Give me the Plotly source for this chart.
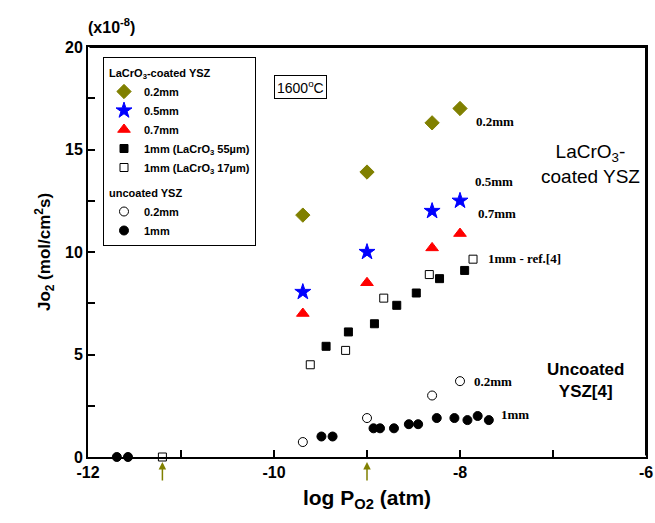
import plotly.graph_objects as go

# ---- data ----
x_02 = [-9.69, -9.0, -8.3, -8.0]
y_02 = [11.8, 13.9, 16.3, 17.0]
x_05 = [-9.69, -9.0, -8.3, -8.0]
y_05 = [8.05, 10.0, 12.0, 12.5]
x_07 = [-9.69, -9.0, -8.3, -8.0]
y_07 = [7.0, 8.5, 10.2, 10.9]
x_1mm55 = [-9.44, -9.2, -8.92, -8.68, -8.47, -8.22, -7.95]
y_1mm55 = [5.4, 6.1, 6.5, 7.4, 8.0, 8.7, 9.1]
x_1mm17 = [-11.2, -9.61, -9.23, -8.82, -8.33, -7.86]
y_1mm17 = [0.0, 4.5, 5.2, 7.75, 8.9, 9.65]
x_unc02 = [-9.69, -9.0, -8.3, -8.0]
y_unc02 = [0.73, 1.9, 3.0, 3.7]
x_unc1 = [-11.69, -11.57, -9.49, -9.37, -8.93, -8.86, -8.71, -8.55, -8.45,
          -8.25, -8.06, -7.92, -7.81, -7.69]
y_unc1 = [0.0, 0.0, 1.0, 1.0, 1.4, 1.4, 1.4, 1.6, 1.6, 1.9, 1.9, 1.8, 2.0, 1.8]
arrow_x = [-11.2, -9.0]

x_ticks = [-12, -10, -8, -6]
y_ticks = [0, 5, 10, 15, 20]

FONT = "Arial, Liberation Sans, sans-serif"
SERIF = "Times New Roman, Liberation Serif, serif"
OLIVE = "#808000"

fig = go.Figure()

def add(x, y, name, symbol, color, size, group, gtitle=None):
    marker = dict(symbol=symbol, size=size, color=color, line=dict(color=color, width=1))
    tr = go.Scatter(x=x, y=y, mode="markers", name=name, marker=marker,
                    legendgroup=group, cliponaxis=False)
    if gtitle:
        tr.legendgrouptitle = dict(text=gtitle, font=dict(size=11, family=FONT, weight="bold", color="black"))
    fig.add_trace(tr)

add(x_02, y_02, "0.2mm", "diamond", OLIVE, 11, "c", "LaCrO<sub>3</sub>-coated YSZ")
add(x_05, y_05, "0.5mm", "star", "blue", 12, "c")
add(x_07, y_07, "0.7mm", "triangle-up", "red", 11, "c")
add(x_1mm55, y_1mm55, "1mm (LaCrO<sub>3</sub> 55µm)", "square", "black", 8, "c")
add(x_1mm17, y_1mm17, "1mm (LaCrO<sub>3</sub> 17µm)", "square-open", "black", 8, "c")
add(x_unc02, y_unc02, "0.2mm", "circle-open", "black", 9, "u", "uncoated YSZ")
add(x_unc1, y_unc1, "1mm", "circle", "black", 9, "u")

W, H = 655, 523
L, R, T, B = 88, 646, 47, 457
def px(xp): return (xp - L) / (R - L)
def py(yp): return (B - yp) / (B - T)

# arrows below the x axis (x in data units, y in paper units)
for ax_ in arrow_x:
    fig.add_annotation(x=ax_, y=py(462), xref="x", yref="paper", text="", showarrow=True,
                       arrowhead=2, arrowsize=1, arrowwidth=1.5, arrowcolor=OLIVE,
                       ax=0, ay=20)

# top and right edges of the plot frame (headless annotation arrows)
fig.add_annotation(x=1, y=1, xref="paper", yref="paper", text="", showarrow=True,
                   arrowhead=0, arrowwidth=2, arrowcolor="black", standoff=0,
                   ax=-(R - L), ay=0)
fig.add_annotation(x=1, y=1, xref="paper", yref="paper", text="", showarrow=True,
                   arrowhead=0, arrowwidth=2, arrowcolor="black", standoff=0,
                   ax=0, ay=(B - T))

def label(x, y, text, size=13, font=SERIF, bold=True, xanchor="left", align="left"):
    fig.add_annotation(x=px(x), y=py(y), xref="paper", yref="paper", text=text, showarrow=False,
                       font=dict(family=font, size=size, color="black",
                                 weight="bold" if bold else "normal"),
                       xanchor=xanchor, yanchor="middle", align=align)

label(474, 121, "0.2mm")
label(473, 182, "0.5mm")
label(476, 213, "0.7mm")
label(486, 258, "1mm - ref.[4]")
label(472, 381, "0.2mm")
label(499, 414, "1mm")
label(590, 164, "LaCrO<sub>3</sub>-<br>coated YSZ", size=19, font=FONT, bold=False,
      xanchor="center", align="center")
label(585, 380, "Uncoated<br>YSZ[4]", size=17, font=FONT, bold=True,
      xanchor="center", align="center")

fig.add_annotation(x=px(300), y=py(75), xref="paper", yref="paper", xanchor="center",
                   text="1600<sup>o</sup>C", showarrow=False,
                   font=dict(family=FONT, size=14, color="black"),
                   bordercolor="black", borderwidth=1, borderpad=2, bgcolor="white")
fig.add_annotation(x=px(111), y=py(14), xref="paper", yref="paper", xanchor="center",
                   text="(x10<sup>-8</sup>)", showarrow=False,
                   font=dict(family=FONT, size=16, color="black", weight="bold"))

fig.update_layout(
    width=W, height=H,
    margin=dict(l=L, r=W - R, t=T, b=H - B, autoexpand=False),
    paper_bgcolor="white", plot_bgcolor="white",
    font=dict(family=FONT, color="black"),
    showlegend=True,
    legend=dict(x=px(103), y=py(57), xanchor="left", yanchor="top",
                bgcolor="white", bordercolor="black", borderwidth=1,
                font=dict(size=11, family=FONT, weight="bold", color="black"),
                tracegroupgap=6, itemsizing="trace", itemwidth=30),
    xaxis=dict(range=[-12, -6], tickvals=x_ticks, ticktext=[str(v) for v in x_ticks],
               ticks="inside", ticklen=7, tickwidth=1.5, tickcolor="black",
               minor=dict(dtick=1, ticks="inside", ticklen=7, tickcolor="black"),
               showline=True, linewidth=2, linecolor="black", mirror=True,
               showgrid=False, zeroline=False, automargin=False,
               tickfont=dict(size=16, family=FONT, weight="bold"),
               title=dict(text="log P<sub>O2</sub> (atm)", standoff=10,
                          font=dict(size=21, family=FONT, weight="bold"))),
    yaxis=dict(range=[0, 20], tickvals=y_ticks, ticktext=[str(v) for v in y_ticks],
               ticks="inside", ticklen=7, tickwidth=1.5, tickcolor="black",
               minor=dict(dtick=2.5, ticks="inside", ticklen=7, tickcolor="black"),
               showline=True, linewidth=2, linecolor="black", mirror=True,
               showgrid=False, zeroline=False, automargin=False,
               tickfont=dict(size=16, family=FONT, weight="bold"),
               title=dict(text="Jo<sub>2</sub> (mol/cm<sup>2</sup>s)", standoff=10,
                          font=dict(size=17, family=FONT, weight="bold"))),
)

fig.write_html("out.html", config={"displayModeBar": False},
               post_script="document.body.style.margin='0';document.body.style.overflow='hidden';")
